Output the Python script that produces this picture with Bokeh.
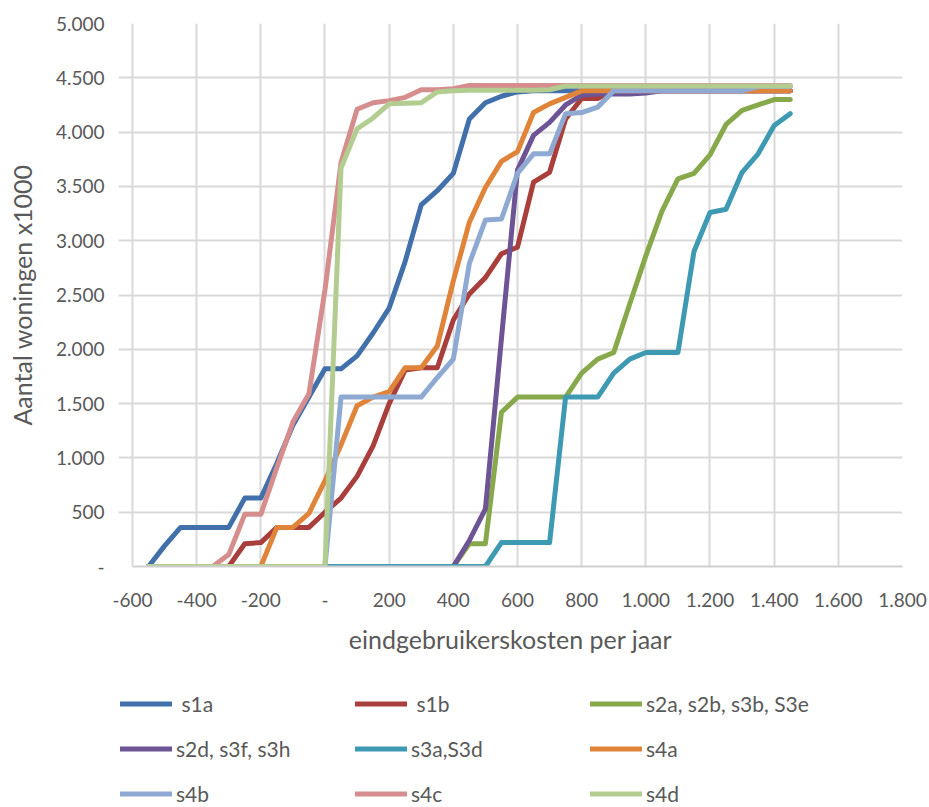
from bokeh.plotting import figure
from bokeh.layouts import column
from bokeh.models import Range1d, FixedTicker, Legend, LegendItem
from bokeh.embed import file_html
from bokeh.resources import INLINE

# Yearly end-user costs (x) shared by every scenario
kosten = [-550, -500, -450, -400, -350, -300, -250, -200, -150, -100, -50, 0,
          50, 100, 150, 200, 250, 300, 350, 400, 450, 500, 550, 600, 650, 700,
          750, 800, 850, 900, 950, 1000, 1050, 1100, 1150, 1200, 1250, 1300,
          1350, 1400, 1450]

# Cumulative number of dwellings (x1000 in the axis label) per scenario
s1a = [0, 190, 360, 360, 360, 360, 630, 630, 950, 1300, 1560, 1820, 1820, 1940,
       2150, 2380, 2810, 3330, 3460, 3620, 4120, 4270, 4330, 4370, 4380, 4380,
       4380, 4380, 4380, 4380, 4380, 4380, 4380, 4380, 4380, 4380, 4380, 4380,
       4380, 4380, 4380]
s1b = [0, 0, 0, 0, 0, 0, 210, 220, 360, 360, 360, 500, 630, 830, 1110, 1500,
       1810, 1830, 1830, 2270, 2510, 2660, 2880, 2940, 3540, 3630, 4120, 4310,
       4310, 4380, 4380, 4380, 4380, 4380, 4380, 4380, 4380, 4380, 4380, 4380,
       4380]
s2a = [0, 0, 0, 0, 0, 0, 0, 0, 0, 0, 0, 0, 0, 0, 0, 0, 0, 0, 0, 0, 210, 210,
       1420, 1560, 1560, 1560, 1560, 1780, 1910, 1970, 2420, 2860, 3270, 3570,
       3620, 3790, 4070, 4200, 4250, 4300, 4300]
s2d = [0, 0, 0, 0, 0, 0, 0, 0, 0, 0, 0, 0, 0, 0, 0, 0, 0, 0, 0, 0, 240, 530,
       2100, 3650, 3970, 4090, 4250, 4340, 4350, 4350, 4350, 4360, 4380, 4380,
       4380, 4380, 4380, 4380, 4380, 4380, 4380]
s3a = [0, 0, 0, 0, 0, 0, 0, 0, 0, 0, 0, 0, 0, 0, 0, 0, 0, 0, 0, 0, 0, 0, 220,
       220, 220, 220, 1560, 1560, 1560, 1780, 1910, 1970, 1970, 1970, 2900,
       3260, 3290, 3630, 3800, 4060, 4170]
s4a = [0, 0, 0, 0, 0, 0, 0, 0, 360, 360, 490, 790, 1120, 1480, 1560, 1610,
       1830, 1830, 2030, 2630, 3170, 3490, 3730, 3820, 4180, 4260, 4320, 4380,
       4380, 4380, 4380, 4380, 4380, 4380, 4380, 4380, 4380, 4380, 4380, 4380,
       4380]
s4b = [0, 0, 0, 0, 0, 0, 0, 0, 0, 0, 0, 0, 1560, 1560, 1560, 1560, 1560, 1560,
       1740, 1910, 2790, 3190, 3200, 3620, 3800, 3800, 4170, 4180, 4230, 4380,
       4380, 4380, 4380, 4380, 4380, 4380, 4380, 4380, 4420, 4420, 4420]
s4c = [0, 0, 0, 0, 0, 110, 480, 480, 910, 1330, 1590, 2550, 3720, 4210, 4270,
       4290, 4320, 4390, 4390, 4400, 4430, 4430, 4430, 4430, 4430, 4430, 4430,
       4430, 4430, 4430, 4430, 4430, 4430, 4430, 4430, 4430, 4430, 4430, 4430,
       4430, 4430]
s4d = [0, 0, 0, 0, 0, 0, 0, 0, 0, 0, 0, 0, 3670, 4030, 4130, 4260, 4265, 4270,
       4370, 4380, 4385, 4385, 4385, 4385, 4385, 4390, 4425, 4425, 4425, 4425,
       4425, 4425, 4425, 4425, 4425, 4425, 4425, 4425, 4425, 4425, 4425]

series_names = [" s1a", " s1b", "s2a, s2b, s3b, S3e", "s2d, s3f, s3h",
                "s3a,S3d", "s4a", "s4b", "s4c", "s4d"]
series_values = [s1a, s1b, s2a, s2d, s3a, s4a, s4b, s4c, s4d]
series_colors = ["#4170AA", "#A83F3C", "#87A94B", "#6D5494", "#3E9AB2",
                 "#E0843A", "#8EA9D2", "#D58E8D", "#B3CD91"]

x_ticks = [-600, -400, -200, 0, 200, 400, 600, 800, 1000, 1200, 1400, 1600, 1800]
x_tick_labels = ["-600", "-400", "-200", "-", "200", "400", "600", "800",
                 "1.000", "1.200", "1.400", "1.600", "1.800"]
y_ticks = [0, 500, 1000, 1500, 2000, 2500, 3000, 3500, 4000, 4500, 5000]
y_tick_labels = ["-", "500", "1.000", "1.500", "2.000", "2.500", "3.000",
                 "3.500", "4.000", "4.500", "5.000"]

FONT = "Lato"
TEXT_COLOR = "#595959"
GRID_COLOR = "#d9d9d9"
LINE_WIDTH = 5

# ---- main chart -------------------------------------------------------------
# The frame starts a little left of -600 so the legend strip below (whose
# frame lines up with this one) can start its first key there too.
p = figure(width=929, height=680, output_backend="svg", toolbar_location=None,
           x_range=Range1d(-643.6, 1800), y_range=Range1d(0, 5000),
           min_border_left=118, min_border_right=27, min_border_top=23,
           min_border_bottom=114)
p.outline_line_color = None
p.background_fill_color = "white"
p.border_fill_color = "white"

p.xaxis.ticker = FixedTicker(ticks=x_ticks)
p.yaxis.ticker = FixedTicker(ticks=y_ticks)
p.xaxis.major_label_overrides = dict(zip(x_ticks, x_tick_labels))
p.yaxis.major_label_overrides = dict(zip(y_ticks, y_tick_labels))

for ax in (p.xaxis, p.yaxis):
    ax.major_tick_line_color = None
    ax.minor_tick_line_color = None
    ax.major_tick_out = 0
    ax.major_tick_in = 0
    ax.major_label_text_font = FONT
    ax.major_label_text_font_size = "19px"
    ax.major_label_text_color = TEXT_COLOR
    ax.axis_label_text_font = FONT
    ax.axis_label_text_font_size = "25px"
    ax.axis_label_text_font_style = "normal"
    ax.axis_label_text_color = TEXT_COLOR

p.xaxis.bounds = (-600, 1800)
p.xaxis.axis_line_color = "#cfcfcf"
p.xaxis.axis_line_width = 2
p.yaxis.axis_line_color = None

p.xaxis.axis_label = "eindgebruikerskosten per jaar"
p.yaxis.axis_label = "Aantal woningen x1000"
p.xaxis.major_label_standoff = 26
p.yaxis.major_label_standoff = 14
p.xaxis.axis_label_standoff = 14
p.yaxis.axis_label_standoff = 16

p.xgrid.ticker = FixedTicker(ticks=x_ticks)
p.ygrid.ticker = FixedTicker(ticks=y_ticks)
p.ygrid.bounds = (-600, 1800)
p.grid.grid_line_color = GRID_COLOR
p.grid.grid_line_width = 2

for vals, color in zip(series_values, series_colors):
    p.line(kosten, vals, line_color=color, line_width=LINE_WIDTH,
           line_join="round", line_cap="round")

# ---- legend strip below the chart (three columns) ---------------------------
lg = figure(width=929, height=127, output_backend="svg", toolbar_location=None,
            x_axis_location=None, y_axis_location=None,
            x_range=Range1d(0, 1), y_range=Range1d(0, 1),
            min_border_left=0, min_border_right=0, min_border_top=0,
            min_border_bottom=0)
lg.outline_line_color = None
lg.grid.visible = False
lg.background_fill_color = "white"
lg.border_fill_color = "white"

items = []
for name, color in zip(series_names, series_colors):
    # legend key only: a single undefined point, so nothing shows in the strip
    key = lg.line(x=[float("nan")], y=[float("nan")], line_color=color,
                  line_width=LINE_WIDTH, line_cap="round")
    items.append(LegendItem(label=name, renderers=[key]))

legend = Legend(items=items, location=(2, 1), orientation="horizontal",
                ncols=3, glyph_width=52, glyph_height=25, label_height=25,
                label_width=159, label_standoff=4, spacing=20, padding=0,
                margin=0, border_line_color=None, background_fill_alpha=0,
                label_text_font=FONT, label_text_font_size="21px",
                label_text_color=TEXT_COLOR)
lg.add_layout(legend)

layout = column(p, lg, spacing=0)
open("out.html", "w").write(file_html(layout, INLINE))
